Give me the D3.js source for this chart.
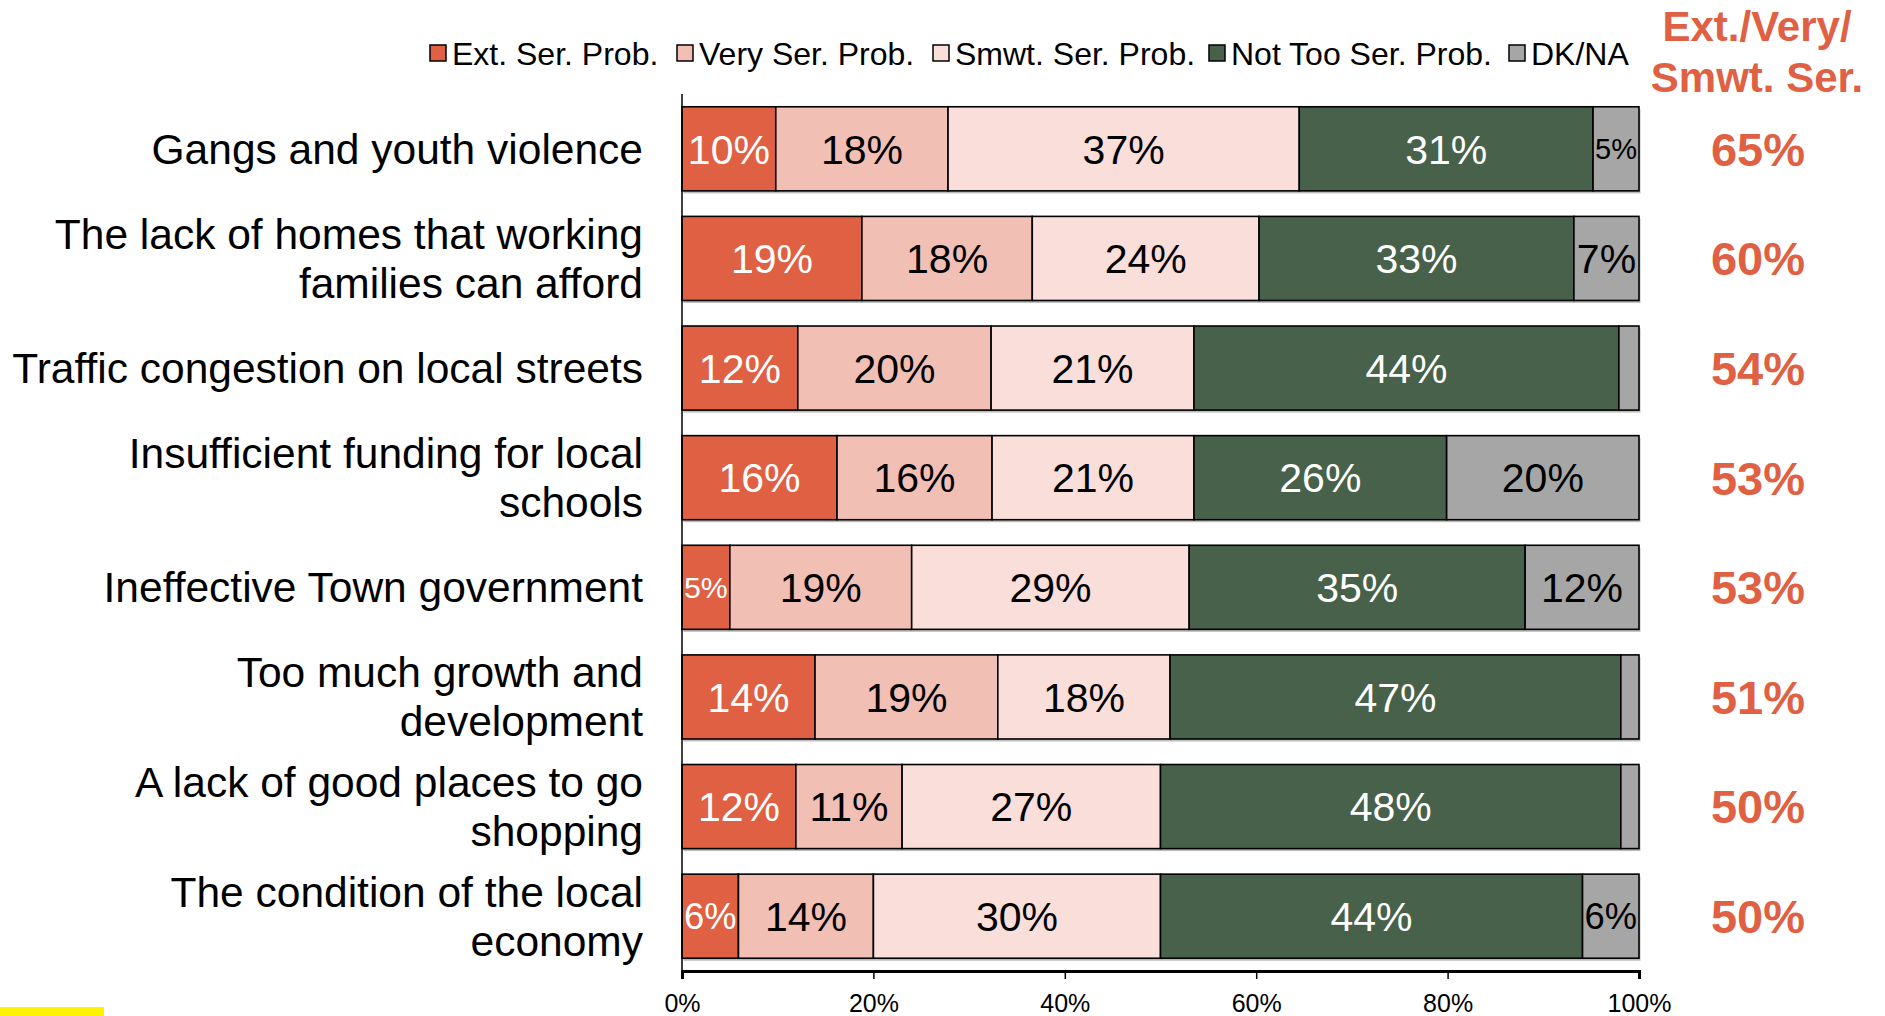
<!DOCTYPE html>
<html>
<head>
<meta charset="utf-8">
<script src="https://cdn.jsdelivr.net/npm/d3@7"></script>
<style>
  html, body { margin: 0; padding: 0; background: #fff; }
  svg { display: block; font-family: "Liberation Sans", Arial, sans-serif; }
</style>
</head>
<body>
<svg id="chart" width="1885" height="1016"></svg>
<script>
// ---- data ----
const categories = [
  ["Gangs and youth violence"],
  ["The lack of homes that working", "families can afford"],
  ["Traffic congestion on local streets"],
  ["Insufficient funding for local", "schools"],
  ["Ineffective Town government"],
  ["Too much growth and", "development"],
  ["A lack of good places to go", "shopping"],
  ["The condition of the local", "economy"]
];
const seriesNames = ["Ext. Ser. Prob.", "Very Ser. Prob.", "Smwt. Ser. Prob.", "Not Too Ser. Prob.", "DK/NA"];
const extSer   = [9.8, 18.8, 12.1, 16.2, 5.0, 13.9, 11.9, 5.9];
const verySer  = [18.0, 17.8, 20.2, 16.2, 19.0, 19.1, 11.1, 14.1];
const smwtSer  = [36.7, 23.7, 21.2, 21.1, 29.0, 18.0, 27.0, 30.0];
const notToo   = [30.7, 32.9, 44.4, 26.4, 35.1, 47.1, 48.1, 44.1];
const dkNa     = [4.8, 6.8, 2.1, 20.1, 11.9, 1.9, 1.9, 5.9];
const totals   = [65, 60, 54, 53, 53, 51, 50, 50];
const totalHeader = ["Ext./Very/", "Smwt. Ser."];
const xTicks = [0, 20, 40, 60, 80, 100];

// ---- styles ----
const colors = ["#E06043", "#F2BFB5", "#F9DED9", "#48614A", "#A6A6A6"];
const textColors = ["#fff", "#000", "#000", "#fff", "#000"];
const accent = "#E06043";

const svg = d3.select("#chart");
const values = [extSer, verySer, smwtSer, notToo, dkNa];

const x = d3.scaleLinear().domain([0, 100]).range([682, 1639]);
const y = d3.scaleBand().domain(d3.range(categories.length)).range([94, 971])
  .paddingInner(0.233).paddingOuter(0.1165);

// stacked rows
const rows = categories.map((c, i) => {
  let acc = 0;
  return values.map((s, k) => {
    const seg = { row: i, k, v: s[i], x0: acc, x1: acc + s[i] };
    acc += s[i];
    return seg;
  });
});

// shadows
svg.append("g").selectAll("rect").data(rows).join("rect")
  .attr("x", d => x(0) + 1.5)
  .attr("y", (d, i) => y(i) + 2.5)
  .attr("width", d => x(d[d.length - 1].x1) - x(0))
  .attr("height", y.bandwidth())
  .attr("fill", "#bdbdbd");

const segs = rows.flat();
svg.append("g").selectAll("rect").data(segs).join("rect")
  .attr("x", d => x(d.x0))
  .attr("y", d => y(d.row))
  .attr("width", d => x(d.x1) - x(d.x0))
  .attr("height", y.bandwidth())
  .attr("fill", d => colors[d.k])
  .attr("stroke", "#000")
  .attr("stroke-width", 1.6);

// segment labels
const emW = { "0":0.556,"1":0.556,"2":0.556,"3":0.556,"4":0.556,"5":0.556,"6":0.556,"7":0.556,"8":0.556,"9":0.556,"%":0.889 };
svg.append("g").selectAll("text").data(segs.filter(d => d.v >= 4.5)).join("text")
  .each(function(d) {
    const t = Math.round(d.v) + "%";
    const w = x(d.x1) - x(d.x0);
    const em = t.split("").reduce((a, c) => a + emW[c], 0);
    const fs = Math.min(41, (w - 4) / em);
    d3.select(this)
      .attr("x", (x(d.x0) + x(d.x1)) / 2)
      .attr("y", y(d.row) + y.bandwidth() / 2)
      .attr("dy", "0.36em")
      .attr("text-anchor", "middle")
      .attr("font-size", fs)
      .attr("fill", textColors[d.k])
      .text(t);
  });

// y axis line
svg.append("line")
  .attr("x1", x(0)).attr("x2", x(0))
  .attr("y1", y.range()[0]).attr("y2", y.range()[1])
  .attr("stroke", "#000").attr("stroke-width", 1.5);

// x axis
const xAxis = svg.append("g")
  .attr("transform", `translate(0,${y.range()[1]})`)
  .call(d3.axisBottom(x).tickValues(xTicks).tickFormat(d => d + "%").tickSize(8).tickPadding(15));
xAxis.select(".domain").attr("stroke", "#000").attr("stroke-width", 3);
xAxis.selectAll(".tick line").attr("stroke", "#000").attr("stroke-width", 1.5);
xAxis.selectAll(".tick text")
  .attr("font-family", "Liberation Sans, Arial, sans-serif")
  .attr("font-size", 25).attr("fill", "#000");

// category labels
const lineH = 49;
svg.append("g").selectAll("text").data(categories).join("text")
  .attr("text-anchor", "end")
  .attr("font-size", 42.5)
  .attr("fill", "#000")
  .each(function(lines, i) {
    const cy = y(i) + y.bandwidth() / 2;
    const start = cy - (lines.length - 1) * lineH / 2;
    d3.select(this).selectAll("tspan").data(lines).join("tspan")
      .attr("x", 643)
      .attr("y", (l, j) => start + j * lineH)
      .attr("dy", "0.35em")
      .text(l => l);
  });

// totals column
svg.append("g").selectAll("text").data(totals).join("text")
  .attr("x", 1758)
  .attr("y", (d, i) => y(i) + y.bandwidth() / 2)
  .attr("dy", "0.36em")
  .attr("text-anchor", "middle")
  .attr("font-size", 47)
  .attr("font-weight", "bold")
  .attr("fill", accent)
  .text(d => d + "%");

svg.append("g").selectAll("text").data(totalHeader).join("text")
  .attr("x", 1757)
  .attr("y", (d, i) => 41 + i * 51)
  .attr("text-anchor", "middle")
  .attr("font-size", 42)
  .attr("font-weight", "bold")
  .attr("fill", accent)
  .text(d => d);

// legend
const legendX = [430, 677, 933, 1209, 1509];
const lg = svg.append("g").selectAll("g").data(seriesNames).join("g")
  .attr("transform", (d, i) => `translate(${legendX[i]},53)`);
lg.append("rect")
  .attr("x", 0).attr("y", -8).attr("width", 16).attr("height", 16)
  .attr("fill", (d, i) => colors[i]).attr("stroke", "#000").attr("stroke-width", 1.5);
lg.append("text")
  .attr("x", 22).attr("dy", "0.36em")
  .attr("font-size", 32).attr("fill", "#000")
  .text(d => d);

// yellow marker bottom-left
svg.append("rect").attr("x", 0).attr("y", 1007).attr("width", 104).attr("height", 9).attr("fill", "#FFF200");
</script>
</body>
</html>
